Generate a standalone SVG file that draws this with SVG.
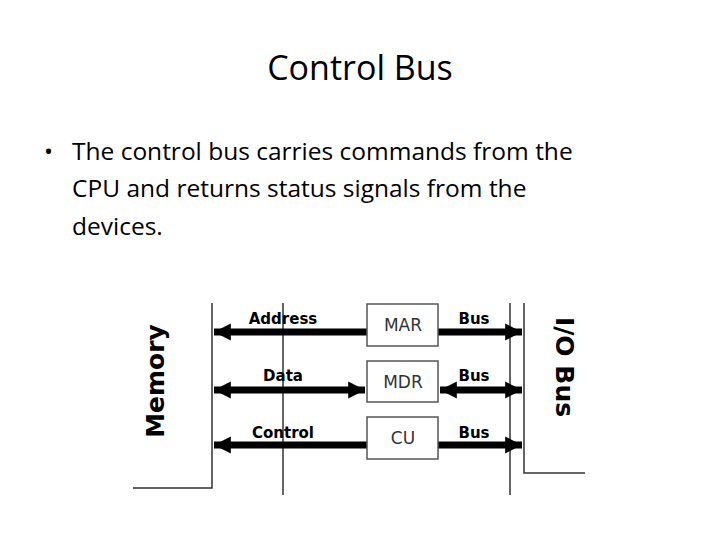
<svg xmlns="http://www.w3.org/2000/svg" width="720" height="540" viewBox="0 0 720 540">
<style>
.t{font-family:"Open Sans","Liberation Sans",sans-serif;fill:#000}
.ln{stroke:#333;stroke-width:1.5;fill:none}
.bx{fill:#fff;stroke:#555;stroke-width:1.5}
.ar{stroke:#000;stroke-width:7;fill:none}
.lb{font-family:"DejaVu Sans",sans-serif;font-weight:bold;font-size:15px;fill:#000}
.big{font-family:"DejaVu Sans",sans-serif;font-weight:bold;font-size:25px;fill:#000}
.bl{font-family:"DejaVu Sans",sans-serif;font-size:17px;fill:#333;text-anchor:middle}
</style>
<defs>
<marker id="h" viewBox="0 0 10 10" refX="10" refY="5" markerWidth="2.4" markerHeight="3" orient="auto-start-reverse" markerUnits="strokeWidth"><path d="M0,0L10,5L0,10z" fill="#000"/></marker>
</defs>
<rect width="720" height="540" fill="#fff"/>
<text class="t" x="360" y="80" font-size="34" text-anchor="middle">Control Bus</text>
<text class="t" x="44" y="160" font-size="24">•</text>
<text class="t" font-size="24.5"><tspan x="72" y="160">The control bus carries commands from the</tspan><tspan x="72" y="197">CPU and returns status signals from the</tspan><tspan x="72" y="235">devices.</tspan></text>
<g id="frame">
<path class="ln" d="M212,303V488H133"/>
<path class="ln" d="M283,303V495"/>
<path class="ln" d="M510,303V495"/>
<path class="ln" d="M524,303V473H585"/>
</g>
<g id="connectors">
<path class="ar" d="M367,332H214" marker-end="url(#h)"/>
<path class="ar" d="M438,332H522" marker-end="url(#h)"/>
<path class="ar" d="M214,390H365" marker-start="url(#h)" marker-end="url(#h)"/>
<path class="ar" d="M440,390H522" marker-start="url(#h)" marker-end="url(#h)"/>
<path class="ar" d="M367,445H214" marker-end="url(#h)"/>
<path class="ar" d="M438,445H522" marker-end="url(#h)"/>
</g>
<g id="MAR"><rect class="bx" x="367" y="304" width="71" height="42"/><text class="bl" x="403" y="331">MAR</text></g>
<g id="MDR"><rect class="bx" x="367" y="361" width="71" height="41"/><text class="bl" x="403" y="388">MDR</text></g>
<g id="CU"><rect class="bx" x="367" y="417" width="71" height="42"/><text class="bl" x="403" y="444">CU</text></g>
<g id="labels">
<text class="lb" x="283" y="324" text-anchor="middle">Address</text>
<text class="lb" x="474" y="324" text-anchor="middle">Bus</text>
<text class="lb" x="283" y="381" text-anchor="middle">Data</text>
<text class="lb" x="474" y="381" text-anchor="middle">Bus</text>
<text class="lb" x="283" y="438" text-anchor="middle">Control</text>
<text class="lb" x="474" y="438" text-anchor="middle">Bus</text>
</g>
<g id="Memory"><text class="big" transform="translate(164,381) rotate(-90)" text-anchor="middle">Memory</text></g>
<g id="IOBus"><text class="big" transform="translate(556,367) rotate(90)" text-anchor="middle">I/O Bus</text></g>
</svg>
